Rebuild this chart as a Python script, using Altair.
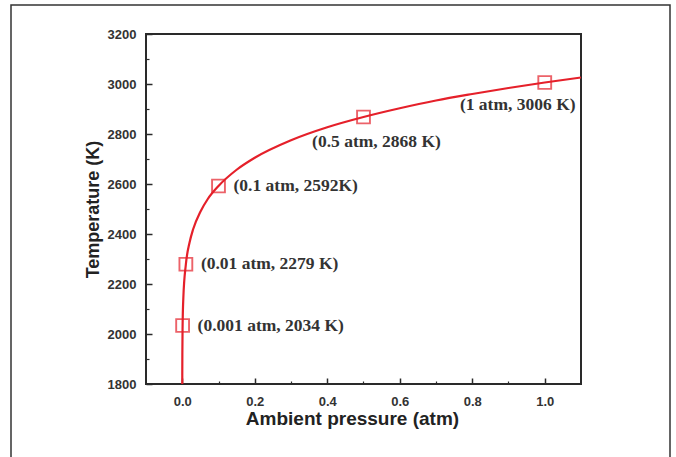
import altair as alt
import pandas as pd

# measured points
pressure = [0.001, 0.01, 0.1, 0.5, 1.0]
temperature = [2034, 2279, 2592, 2868, 3006]
point_labels = ["(0.001 atm, 2034 K)", "(0.01 atm, 2279 K)", "(0.1 atm, 2592K)",
                "(0.5 atm, 2868 K)", "(1 atm, 3006 K)"]

# fitted curve
curve_p = [0.00006, 0.0001, 0.0003, 0.001, 0.003, 0.01, 0.02, 0.03, 0.05, 0.07, 0.1,
           0.15, 0.2, 0.3, 0.4, 0.5, 0.6, 0.7, 0.8, 0.9, 1.0, 1.1]
curve_t = [1800, 1835, 1925, 2034, 2144, 2279, 2365, 2419, 2489, 2539, 2592,
           2657, 2705, 2775, 2827, 2868, 2903, 2934, 2960, 2984, 3006, 3026]

x_major = [0.0, 0.2, 0.4, 0.6, 0.8, 1.0]
x_minor = [0.1, 0.3, 0.5, 0.7, 0.9]
y_major = [1800, 2000, 2200, 2400, 2600, 2800, 3000, 3200]
y_minor = [1900, 2100, 2300, 2500, 2700, 2900, 3100]

RED = "#e5202a"
INK = "#2a2a2a"

pts = pd.DataFrame({"p": pressure, "t": temperature, "label": point_labels})
curve = pd.DataFrame({"p": curve_p, "t": curve_t})

xs = alt.Scale(domain=[-0.1, 1.1], nice=False, zero=False)
ys = alt.Scale(domain=[1800, 3200], nice=False, zero=False)

# outer frame
frame = alt.Chart(pd.DataFrame({"a": [0]})).mark_rect(
    fill=None, stroke="#333333", strokeWidth=1.5
).encode(x=alt.value(-135), x2=alt.value(524), y=alt.value(-29), y2=alt.value(520))

line = alt.Chart(curve).mark_line(color=RED, strokeWidth=2.2, interpolate="monotone", clip=True).encode(
    x=alt.X("p:Q", scale=xs, title="Ambient pressure (atm)",
            axis=alt.Axis(orient="bottom", values=x_major, format=".1f", ticks=False, domain=False,
                          grid=False, labelFont="Liberation Sans", labelFontWeight="bold",
                          labelFontSize=13, labelColor="#333333", labelPadding=11,
                          titleFont="Liberation Sans", titleFontSize=19, titleFontWeight="bold",
                          titleColor="#222222", titlePadding=1, titleX=206)),
    y=alt.Y("t:Q", scale=ys, title="Temperature (K)",
            axis=alt.Axis(orient="left", values=y_major, format="d", ticks=False, domain=False,
                          grid=False, labelFont="Liberation Sans", labelFontWeight="bold",
                          labelFontSize=13, labelColor="#333333", labelPadding=10,
                          titleFont="Liberation Sans", titleFontSize=18, titleFontWeight="bold",
                          titleColor="#222222", titlePadding=5)),
)

points = alt.Chart(pts).mark_point(shape="square", size=165, color=RED, strokeWidth=1.9, filled=False).encode(
    x=alt.X("p:Q", scale=xs, title=None,
            axis=alt.Axis(orient="top", offset=-350, values=x_major, labels=False, domain=False,
                          grid=False, tickSize=6, tickWidth=1.5, tickColor=INK)),
    y=alt.Y("t:Q", scale=ys, title=None,
            axis=alt.Axis(orient="right", offset=-435, values=y_major, labels=False, domain=False,
                          grid=False, tickSize=6, tickWidth=1.5, tickColor=INK)),
)

text_style = dict(font="Liberation Serif", fontWeight="bold", fontSize=17.5, color="#333333")

lab_left = alt.Chart(pts).transform_filter("datum.p < 0.3").mark_text(
    align="left", baseline="middle", dx=15, **text_style
).encode(
    x=alt.X("p:Q", scale=xs, title=None,
            axis=alt.Axis(orient="top", offset=-350, values=x_minor, labels=False, domain=False,
                          grid=False, tickSize=3, tickWidth=1.2, tickColor=INK)),
    y=alt.Y("t:Q", scale=ys, title=None,
            axis=alt.Axis(orient="right", offset=-435, values=y_minor, labels=False, domain=False,
                          grid=False, tickSize=3, tickWidth=1.2, tickColor=INK)),
    text="label:N",
)

lab_mid = alt.Chart(pts).transform_filter("datum.p == 0.5").mark_text(
    align="center", baseline="middle", dx=13, dy=25, **text_style
).encode(x=alt.X("p:Q", scale=xs, axis=None), y=alt.Y("t:Q", scale=ys, axis=None), text="label:N")

lab_right = alt.Chart(pts).transform_filter("datum.p == 1").mark_text(
    align="center", baseline="middle", dx=-27, dy=22, **text_style
).encode(x=alt.X("p:Q", scale=xs, axis=None), y=alt.Y("t:Q", scale=ys, axis=None), text="label:N")

chart = alt.layer(frame, line, points, lab_left, lab_mid, lab_right).resolve_axis(
    x="independent", y="independent"
).properties(
    width=435, height=350,
    autosize=alt.AutoSizeParams(type="none"),
    padding={"left": 146, "top": 34, "right": 95, "bottom": 73},
    background="white",
).configure_view(stroke=INK, strokeWidth=2)

chart.save("out.html", embed_options={"renderer": "svg", "actions": False})
